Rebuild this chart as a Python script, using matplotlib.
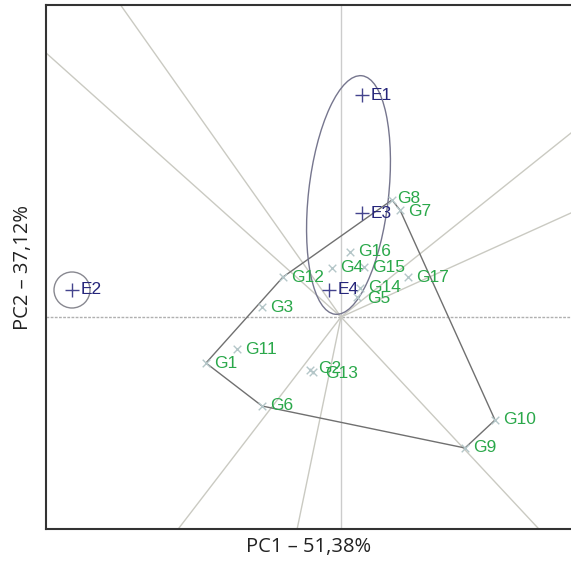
import numpy as np
import matplotlib
matplotlib.use('Agg')
import matplotlib.pyplot as plt
from matplotlib.patches import Ellipse, Circle

# environment scores (PC1, PC2)
env_names = ['E1', 'E2', 'E3', 'E4']
env_pc1 = [0.42, -5.38, 0.42, -0.24]
env_pc2 = [4.44, 0.54, 2.08, 0.54]

# genotype scores (PC1, PC2)
gen_names = ['G1', 'G2', 'G3', 'G4', 'G5', 'G6', 'G7', 'G8', 'G9',
             'G10', 'G11', 'G12', 'G13', 'G14', 'G15', 'G16', 'G17']
gen_pc1 = [-2.70, -0.62, -1.58, -0.18, 0.32, -1.58, 1.18, 1.02, 2.48,
           3.08, -2.08, -1.16, -0.56, 0.38, 0.46, 0.18, 1.34]
gen_pc2 = [-0.92, -1.06, 0.20, 0.98, 0.40, -1.78, 2.14, 2.34, -2.62,
           -2.06, -0.64, 0.80, -1.10, 0.58, 1.00, 1.30, 0.80]

# polygon vertices (winning genotypes), in order
hull_names = ['G8', 'G7', 'G10', 'G9', 'G6', 'G1', 'G12']

# mega-environment ellipse (E1/E3) and E2 circle
mega_center = (0.15, 2.44)
mega_size = (1.6, 4.8)
mega_angle = -6.4
e2_radius = 0.36

env_col = '#25257a'
gen_col = '#2aa84a'

fig = plt.figure(figsize=(5.71, 5.62), dpi=100)
ax = fig.add_axes([46 / 571, 33 / 562, 525 / 571, 524 / 562])
ax.set_xlim(-5.9, 4.6)
ax.set_ylim(-4.24, 6.24)
ax.set_aspect('equal')
ax.set_xticks([])
ax.set_yticks([])
for s in ['left', 'top', 'bottom']:
    ax.spines[s].set_color('#333333')
    ax.spines[s].set_linewidth(1.5)
ax.spines['right'].set_visible(False)

ax.axhline(0, color='#b0b0b0', lw=1, ls=(0, (2, 1)), zorder=1)
ax.axvline(0, color='#cccccc', lw=1, zorder=1)

# polygon
gx = dict(zip(gen_names, gen_pc1))
gy = dict(zip(gen_names, gen_pc2))
hx = [gx[n] for n in hull_names] + [gx[hull_names[0]]]
hy = [gy[n] for n in hull_names] + [gy[hull_names[0]]]
ax.plot(hx, hy, color='#707070', lw=1, zorder=2)

# rays perpendicular to each polygon side
for i in range(len(hull_names)):
    a = np.array([hx[i], hy[i]])
    b = np.array([hx[i + 1], hy[i + 1]])
    d = b - a
    n = np.array([-d[1], d[0]])
    n = n / np.linalg.norm(n)
    if np.dot(n, a) < 0:
        n = -n
    ax.plot([0, n[0] * 20], [0, n[1] * 20], color='#cacac2', lw=1, zorder=1)

ax.add_patch(Ellipse(mega_center, mega_size[0], mega_size[1], angle=mega_angle,
                     fill=False, ec='#76768e', lw=1, zorder=2))
ax.add_patch(Circle((env_pc1[1], env_pc2[1]), e2_radius,
                    fill=False, ec='#888890', lw=1, zorder=2))

ax.scatter(gen_pc1, gen_pc2, marker='x', s=30, color='#b4c6c8', lw=1, zorder=3)
ax.scatter(env_pc1, env_pc2, marker='+', s=110, color='#44448e', lw=1, zorder=3)

gen_off = {'G2': (6, 1), 'G13': (9, -1), 'G7': (6, -1), 'G8': (4, 1),
           'G14': (6, 0), 'G5': (7, -1)}
for n, x, y in zip(gen_names, gen_pc1, gen_pc2):
    off = gen_off.get(n, (6, 0))
    ax.annotate(n, (x, y), xytext=off, textcoords='offset points',
                ha='left', va='center', color=gen_col, fontsize=12.5,
                family='Liberation Sans', zorder=4)
for n, x, y in zip(env_names, env_pc1, env_pc2):
    ax.annotate(n, (x, y), xytext=(6, 0), textcoords='offset points',
                ha='left', va='center', color=env_col, fontsize=12.5,
                family='Liberation Sans', zorder=4)

ax.set_xlabel('PC1 – 51,38%', fontsize=14.5, family='Open Sans', color='#222222', labelpad=6)
ax.set_ylabel('PC2 – 37,12%', fontsize=14.5, family='Open Sans', color='#222222', labelpad=9)

fig.savefig('out.png', dpi=100)
